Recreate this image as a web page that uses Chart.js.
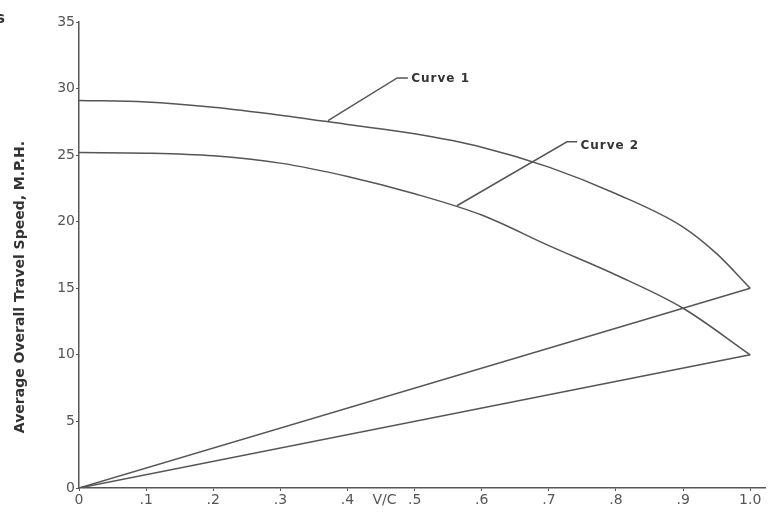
<!DOCTYPE html>
<html>
<head>
<meta charset="utf-8">
<script src="https://cdn.jsdelivr.net/npm/chart.js@4"></script>
<style>
  html, body { margin: 0; padding: 0; background: #fff; }
  #wrap { width: 771px; height: 518px; position: relative; }
</style>
</head>
<body>
<div id="wrap"><canvas id="chart"></canvas></div>
<script>
// values
const vc1 = [0, 0.1, 0.2, 0.3, 0.4, 0.5, 0.6, 0.7, 0.8, 0.9, 0.95, 1.0];
const curve1 = [29.1, 29.0, 28.6, 28.0, 27.3, 26.6, 25.6, 24.1, 22.1, 19.6, 17.6, 15.0];
const vc2 = [0, 0.1, 0.2, 0.3, 0.4, 0.5, 0.6, 0.7, 0.8, 0.9, 1.0];
const curve2 = [25.2, 25.15, 24.95, 24.4, 23.4, 22.1, 20.5, 18.2, 16.0, 13.5, 10.0];

// straight lines from the origin to the curve end points
const line1X = [0, 1.0];
const line1Y = [0, 15];
const line2X = [0, 1.0];
const line2Y = [0, 10];

// leader lines for the curve labels
const leader1X = [0.371, 0.474, 0.49];
const leader1Y = [27.6, 30.8, 30.8];
const leader2X = [0.563, 0.727, 0.742];
const leader2Y = [21.2, 26.0, 26.0];
const labelNames = ["Curve 1", "Curve 2"];
const labelX = [0.495, 0.747];
const labelY = [30.7, 25.7];

const yTicks = [0, 5, 10, 15, 20, 25, 30, 35];
const xTicks = [0, 0.1, 0.2, 0.3, 0.4, 0.5, 0.6, 0.7, 0.8, 0.9, 1.0];

const ink = "#555";

function pts(xs, ys) {
  return xs.map((x, i) => ({ x: x, y: ys[i] }));
}

function lineSet(data, smooth) {
  return {
    data: data,
    borderColor: ink,
    borderWidth: 1.5,
    pointRadius: 0,
    fill: false,
    tension: smooth ? 0.4 : 0,
    cubicInterpolationMode: smooth ? "monotone" : "default",
  };
}

// curve labels, axis names and the cut-off letter at the corner
const textPlugin = {
  id: "texts",
  afterDraw(chart) {
    const ctx = chart.ctx;
    const xs = chart.scales.x;
    const ys = chart.scales.y;
    ctx.save();
    ctx.fillStyle = "#333";
    ctx.font = "bold 12px 'DejaVu Sans'";
    ctx.letterSpacing = "1px";
    ctx.textBaseline = "middle";
    ctx.textAlign = "left";
    labelNames.forEach((name, i) => {
      ctx.fillText(name, xs.getPixelForValue(labelX[i]), ys.getPixelForValue(labelY[i]));
    });
    ctx.letterSpacing = "0px";
    ctx.fillStyle = ink;
    ctx.font = "14px 'DejaVu Sans'";
    ctx.textAlign = "center";
    ctx.fillText("V/C", xs.getPixelForValue(0.455), ys.bottom + 12);

    // y axis name
    ctx.fillStyle = "#333";
    ctx.font = "bold 14px 'DejaVu Sans'";
    ctx.translate(20, 287);
    ctx.rotate(-Math.PI / 2);
    ctx.fillText("Average Overall Travel Speed, M.P.H.", 0, 0);
    ctx.restore();

    ctx.save();
    ctx.fillStyle = "#333";
    ctx.font = "bold 15px 'DejaVu Sans'";
    ctx.textBaseline = "middle";
    ctx.fillText("s", -4, 19);
    ctx.restore();
  },
};

new Chart(document.getElementById("chart"), {
  type: "line",
  data: {
    datasets: [
      lineSet(pts(vc1, curve1), true),
      lineSet(pts(vc2, curve2), true),
      lineSet(pts(line1X, line1Y), false),
      lineSet(pts(line2X, line2Y), false),
      lineSet(pts(leader1X, leader1Y), false),
      lineSet(pts(leader2X, leader2Y), false),
    ],
  },
  options: {
    responsive: true,
    maintainAspectRatio: false,
    animation: false,
    layout: { padding: { top: 22, right: 6, left: 0, bottom: 0 } },
    plugins: {
      legend: { display: false },
      tooltip: { enabled: false },
    },
    scales: {
      x: {
        type: "linear",
        min: 0,
        max: 1.022,
        afterBuildTicks: (scale) => {
          scale.ticks = xTicks.map((v) => ({ value: v }));
        },
        afterFit: (scale) => {
          scale.height = 30;
        },
        grid: { drawOnChartArea: false, drawTicks: true, tickLength: 3, color: ink },
        border: { display: true, color: ink, width: 1.5 },
        ticks: {
          color: ink,
          padding: 1,
          maxRotation: 0,
          autoSkip: false,
          font: { family: "'DejaVu Sans'", size: 14 },
          callback: (v) => (v === 0 ? "0" : v >= 1 ? "1.0" : "." + Math.round(v * 10)),
        },
      },
      y: {
        min: 0,
        max: 35,
        afterBuildTicks: (scale) => {
          scale.ticks = yTicks.map((v) => ({ value: v }));
        },
        afterFit: (scale) => {
          scale.width = 79;
        },
        grid: { drawOnChartArea: false, drawTicks: true, tickLength: 3, color: ink },
        border: { display: true, color: ink, width: 1.5 },
        ticks: {
          color: ink,
          padding: 1,
          font: { family: "'DejaVu Sans'", size: 14 },
        },
      },
    },
  },
  plugins: [textPlugin],
});
</script>
</body>
</html>
